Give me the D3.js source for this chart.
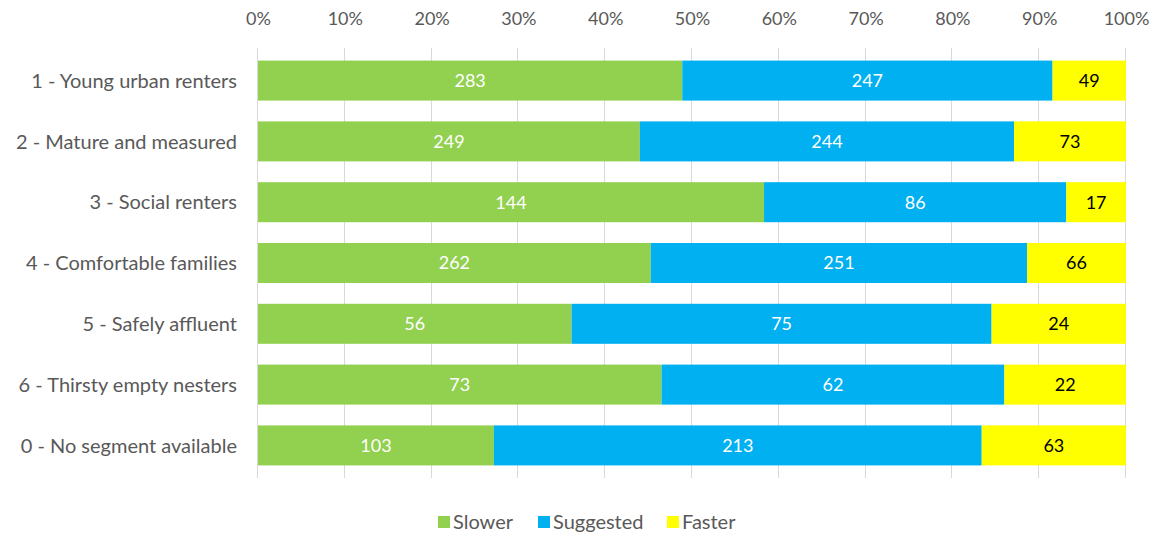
<!DOCTYPE html>
<html>
<head>
<meta charset="utf-8">
<script src="https://cdn.jsdelivr.net/npm/d3@7"></script>
<style>
  body { margin: 0; background: #fff; }
  svg text { font-family: Lato, "Open Sans", sans-serif; }
</style>
</head>
<body>
<svg id="chart" width="1156" height="536"></svg>
<script>
// Segments and counts per speed response
const segments = [
  "1 - Young urban renters",
  "2 - Mature and measured",
  "3 - Social renters",
  "4 - Comfortable families",
  "5 - Safely affluent",
  "6 - Thirsty empty nesters",
  "0 - No segment available"
];
const slower    = [283, 249, 144, 262, 56, 73, 103];
const suggested = [247, 244, 86, 251, 75, 62, 213];
const faster    = [49, 73, 17, 66, 24, 22, 63];
const seriesNames = ["Slower", "Suggested", "Faster"];
const seriesColors = ["#92D050", "#00B0F0", "#FFFF00"];
const labelColors = ["#ffffff", "#ffffff", "#000000"];
const tickValues = [0, 0.1, 0.2, 0.3, 0.4, 0.5, 0.6, 0.7, 0.8, 0.9, 1.0];

const rows = segments.map((s, i) => ({
  segment: s, Slower: slower[i], Suggested: suggested[i], Faster: faster[i]
}));

const svg = d3.select("#chart");
const margin = { left: 258, right: 30, top: 48, bottom: 58 };
const width = 1156, height = 536;

const x = d3.scaleLinear().domain([0, 1]).range([margin.left, width - margin.right]);
const y = d3.scaleBand().domain(segments)
  .range([margin.top, height - margin.bottom])
  .paddingInner(0.342).paddingOuter(0.207);

// Vertical gridlines
svg.append("g").selectAll("line").data(tickValues).join("line")
  .attr("x1", d => Math.round(x(d)) - 0.5).attr("x2", d => Math.round(x(d)) - 0.5)
  .attr("y1", margin.top).attr("y2", height - margin.bottom)
  .attr("stroke", "#d9d9d9").attr("stroke-width", 1);

// Top axis labels
const axis = d3.axisTop(x).tickValues(tickValues).tickFormat(d3.format(".0%")).tickSize(0).tickPadding(0);
const ax = svg.append("g").attr("transform", `translate(0, 25)`).call(axis);
ax.select(".domain").remove();
ax.selectAll("text").attr("fill", "#595959").attr("font-size", 18).attr("font-family", "Lato, sans-serif");

// Stacked, normalised bars
const stack = d3.stack().keys(seriesNames).offset(d3.stackOffsetExpand);
const stacked = stack(rows);

const groups = svg.append("g").selectAll("g").data(stacked).join("g")
  .attr("fill", (d, i) => seriesColors[i]);

groups.selectAll("rect").data(d => d.map(v => ({ v, key: d.key }))).join("rect")
  .attr("x", d => x(d.v[0]))
  .attr("width", d => x(d.v[1]) - x(d.v[0]))
  .attr("y", d => y(d.v.data.segment))
  .attr("height", y.bandwidth());

// Value labels centred in each segment
stacked.forEach((layer, li) => {
  svg.append("g").selectAll("text").data(layer).join("text")
    .attr("x", d => (x(d[0]) + x(d[1])) / 2)
    .attr("y", d => y(d.data.segment) + y.bandwidth() / 2)
    .attr("dy", "0.36em")
    .attr("text-anchor", "middle")
    .attr("font-size", 18)
    .attr("fill", labelColors[li])
    .text(d => d.data[layer.key]);
});

// Category labels
svg.append("g").selectAll("text").data(segments).join("text")
  .attr("x", 237)
  .attr("y", d => y(d) + y.bandwidth() / 2)
  .attr("dy", "0.36em")
  .attr("text-anchor", "end")
  .attr("font-size", 20)
  .attr("fill", "#595959")
  .text(d => d);

// Legend
const legendX = [438, 538, 667];
const legend = svg.append("g").selectAll("g").data(seriesNames).join("g")
  .attr("transform", (d, i) => `translate(${legendX[i]}, 522)`);
legend.append("rect").attr("x", 0).attr("y", -6).attr("width", 12).attr("height", 12)
  .attr("fill", (d, i) => seriesColors[i]);
legend.append("text").attr("x", 15).attr("dy", "0.36em")
  .attr("font-size", 20).attr("fill", "#595959").text(d => d);
</script>
</body>
</html>
